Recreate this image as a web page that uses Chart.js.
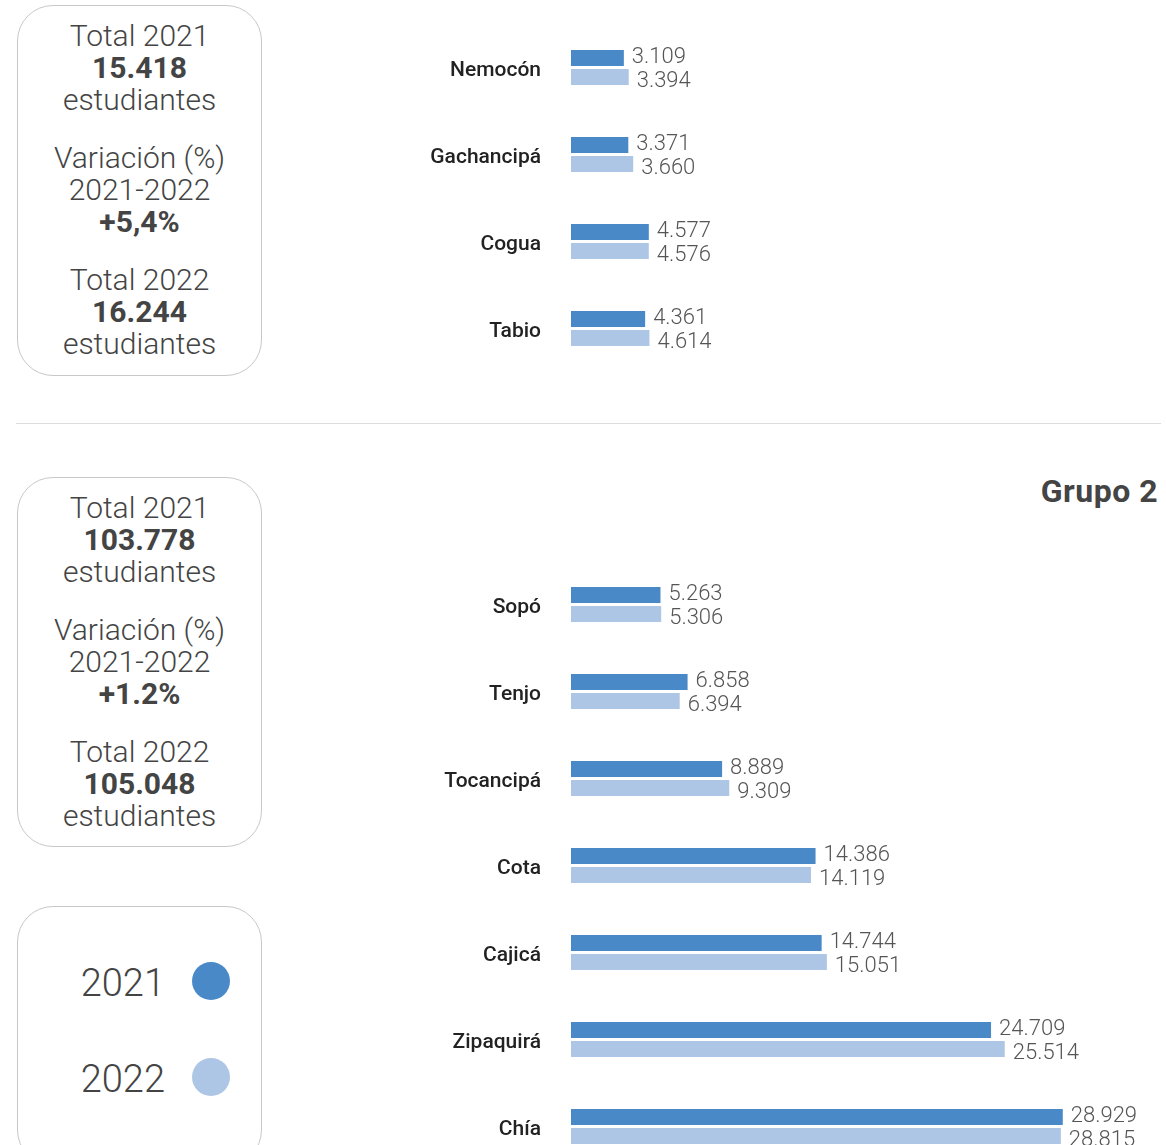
<!DOCTYPE html>
<html lang="es">
<head>
<meta charset="utf-8">
<script src="https://cdn.jsdelivr.net/npm/chart.js@4.4.1/dist/chart.umd.min.js"></script>
<style>
  html, body { margin: 0; padding: 0; background: #fff; }
  body { width: 1166px; height: 1145px; overflow: hidden; position: relative; font-family: Roboto, sans-serif; color: #444; }
  .card {
    position: absolute; left: 17px; width: 245px;
    border: 1px solid #c8c8c8; border-radius: 36px; box-sizing: border-box;
    text-align: center; font-weight: 300; font-size: 30px; line-height: 32px;
  }
  .card b { font-weight: 700; }
  .card p { margin: 0; }
  .card p + p { margin-top: 26px; }
  .divider { position: absolute; left: 16px; top: 423px; width: 1145px; height: 1px; background: #dcdcdc; }
  .title { position: absolute; right: 8px; top: 472px; font-size: 32px; font-weight: 700; color: #444; letter-spacing: 0.5px; }
  .legend { position: absolute; left: 17px; top: 906px; width: 245px; height: 260px; border: 1px solid #c8c8c8; border-radius: 36px; box-sizing: border-box; }
  .legend .item { position: absolute; left: 0; width: 100%; font-size: 38px; font-weight: 300; color: #444; }
  .legend .item span { position: absolute; right: 96px; }
  .legend .item i { position: absolute; left: 174px; top: 1px; width: 38px; height: 38px; border-radius: 50%; }
  canvas { position: absolute; }
</style>
</head>
<body>

<div class="card" style="top:5px;height:371px;padding-top:14px;">
  <p>Total 2021<br><b>15.418</b><br>estudiantes</p>
  <p>Variación (%)<br>2021-2022<br><b>+5,4%</b></p>
  <p>Total 2022<br><b>16.244</b><br>estudiantes</p>
</div>

<div class="divider"></div>
<div class="title">Grupo 2</div>

<div class="card" style="top:477px;height:370px;padding-top:14px;">
  <p>Total 2021<br><b>103.778</b><br>estudiantes</p>
  <p>Variación (%)<br>2021-2022<br><b>+1.2%</b></p>
  <p>Total 2022<br><b>105.048</b><br>estudiantes</p>
</div>

<div class="legend">
  <div class="item" style="top:54px;"><span>2021</span><i style="background:#4a89c8"></i></div>
  <div class="item" style="top:150px;"><span>2022</span><i style="background:#aec6e6"></i></div>
</div>

<canvas id="grupo1" style="left:270px;top:1px;"></canvas>
<canvas id="grupo2" style="left:270px;top:538px;"></canvas>

<script>
const color2021 = '#4a89c8';
const color2022 = '#aec6e6';

const grupo1Municipios = ['Nemocón', 'Gachancipá', 'Cogua', 'Tabio'];
const grupo1Valores2021 = [3109, 3371, 4577, 4361];
const grupo1Valores2022 = [3394, 3660, 4576, 4614];

const grupo2Municipios = ['Sopó', 'Tenjo', 'Tocancipá', 'Cota', 'Cajicá', 'Zipaquirá', 'Chía'];
const grupo2Valores2021 = [5263, 6858, 8889, 14386, 14744, 24709, 28929];
const grupo2Valores2022 = [5306, 6394, 9309, 14119, 15051, 25514, 28815];

const xMax = 35000;

function formatMiles(n) {
  return String(n).replace(/\B(?=(\d{3})+(?!\d))/g, '.');
}

// etiquetas de valor al final de cada barra
const valueLabels = {
  id: 'valueLabels',
  afterDatasetsDraw(chart) {
    const ctx = chart.ctx;
    ctx.save();
    ctx.font = '300 22px Roboto';
    ctx.fillStyle = '#555';
    ctx.textAlign = 'left';
    ctx.textBaseline = 'middle';
    chart.data.datasets.forEach((ds, i) => {
      chart.getDatasetMeta(i).data.forEach((bar, j) => {
        ctx.fillText(formatMiles(ds.data[j]), bar.x + 8, bar.y + (i === 1 ? 4 : 0));
      });
    });
    ctx.restore();
  }
};

function makeChart(id, labels, v2021, v2022) {
  const canvas = document.getElementById(id);
  canvas.width = 896;
  canvas.height = labels.length * 87 + 23;
  canvas.style.width = canvas.width + 'px';
  canvas.style.height = canvas.height + 'px';

  return new Chart(canvas, {
    type: 'bar',
    data: {
      labels: labels,
      datasets: [
        { label: '2021', data: v2021, backgroundColor: color2021 },
        { label: '2022', data: v2022, backgroundColor: color2022 }
      ]
    },
    options: {
      indexAxis: 'y',
      responsive: false,
      animation: false,
      layout: { padding: { top: 23, right: 0, bottom: 0, left: 0 } },
      datasets: { bar: { categoryPercentage: 0.437, barPercentage: 0.842 } },
      plugins: { legend: { display: false }, tooltip: { enabled: false } },
      scales: {
        x: { display: false, min: 0, max: xMax },
        y: {
          afterFit: scale => {
            scale.width = 301;
            scale.paddingTop = 0;
            scale.paddingBottom = 0;
          },
          grid: { display: false, drawTicks: true, tickLength: 30 },
          border: { display: false },
          ticks: { padding: 0, labelOffset: 3, color: '#222', font: { family: 'Roboto', size: 21, weight: '500' } }
        }
      }
    },
    plugins: [valueLabels]
  });
}

makeChart('grupo1', grupo1Municipios, grupo1Valores2021, grupo1Valores2022);
makeChart('grupo2', grupo2Municipios, grupo2Valores2021, grupo2Valores2022);
</script>
</body>
</html>
